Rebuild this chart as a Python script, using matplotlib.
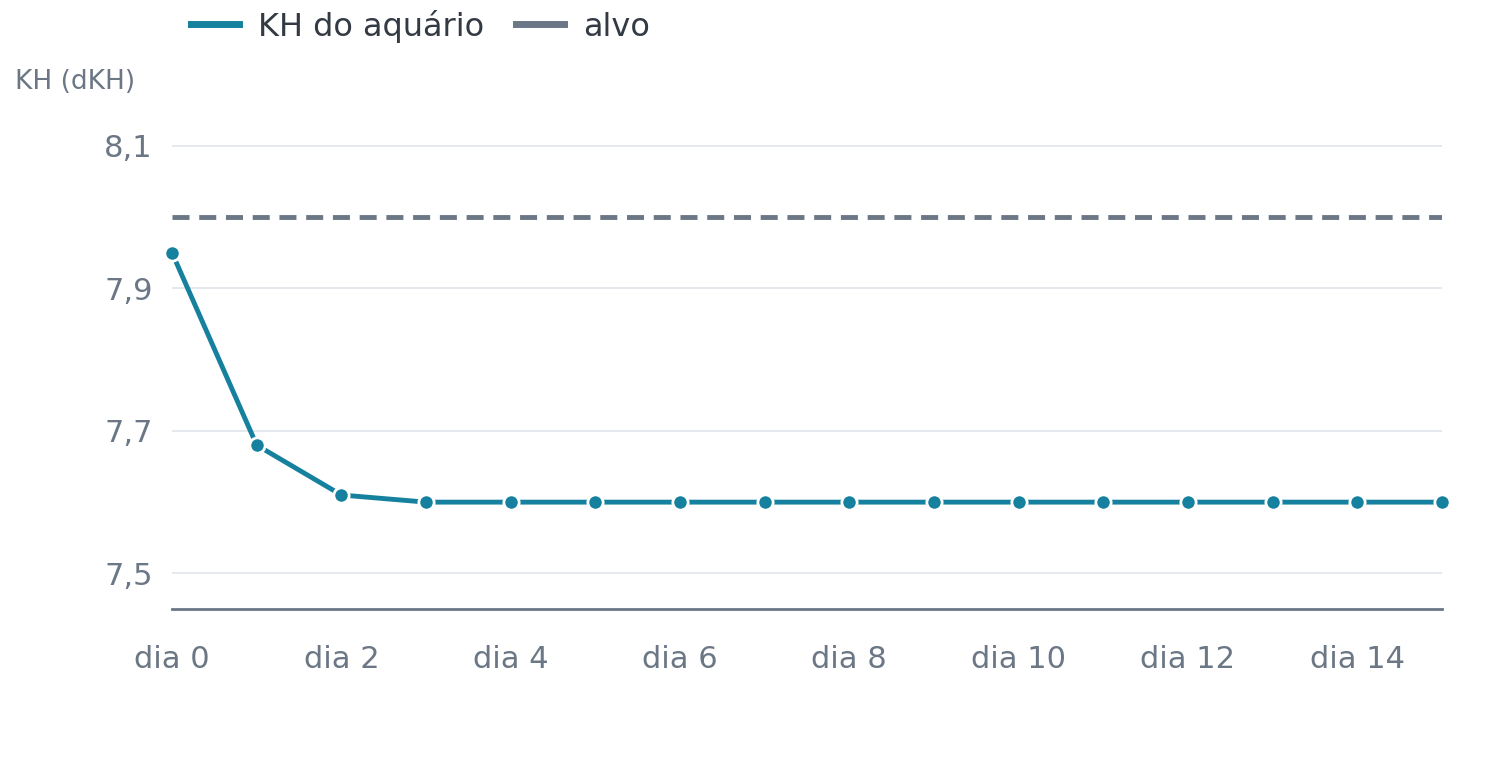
import matplotlib.pyplot as plt

days = list(range(16))
kh = [7.95, 7.68, 7.61, 7.60, 7.60, 7.60, 7.60, 7.60, 7.60, 7.60, 7.60, 7.60, 7.60, 7.60, 7.60, 7.60]
target = 8.0
yticks = [7.5, 7.7, 7.9, 8.1]
xticks = list(range(0, 16, 2))

line_col = "#15819f"
gray = "#6b7785"

fig = plt.figure(figsize=(15, 7.64), dpi=100)
ax = fig.add_axes([0.1147, 0.2029, 0.8466, 0.634])

ax.axhline(target, color=gray, lw=3.5, ls=(0, (3.5, 2)), label="alvo", zorder=2)
ax.plot(days, kh, color=line_col, lw=3.5, marker="o", ms=11,
        markeredgecolor="white", markeredgewidth=2, label="KH do aquário", zorder=3,
        clip_on=False)

ax.set_xlim(0, 15)
ax.set_ylim(7.45, 8.13)
ax.set_yticks(yticks)
ax.set_yticklabels([f"{v:.1f}".replace(".", ",") for v in yticks])
ax.set_xticks(xticks)
ax.set_xticklabels([f"dia {d}" for d in xticks])
ax.grid(axis="y", color="#e3e6ea", lw=1.3)
ax.set_axisbelow(True)
for s in ["top", "right", "left"]:
    ax.spines[s].set_visible(False)
ax.spines["bottom"].set_color(gray)
ax.spines["bottom"].set_linewidth(2)
ax.tick_params(axis="both", length=0, labelsize=22, colors=gray)
ax.tick_params(axis="x", pad=26)
ax.tick_params(axis="y", pad=14)

fig.text(0.01, 0.893, "KH (dKH)", fontsize=19, color=gray, va="center")

handles, labels = ax.get_legend_handles_labels()
leg = fig.legend(handles[::-1], labels[::-1], loc="upper left", bbox_to_anchor=(0.108, 1.025),
                 ncol=2, frameon=False, fontsize=23, handlelength=1.5, columnspacing=1.0,
                 handletextpad=0.6)
for h in leg.legend_handles:
    h.set_marker("")
    h.set_linewidth(5)
    h.set_linestyle("-")
for t in leg.get_texts():
    t.set_color("#333a44")

fig.savefig("out.png", dpi=100)
